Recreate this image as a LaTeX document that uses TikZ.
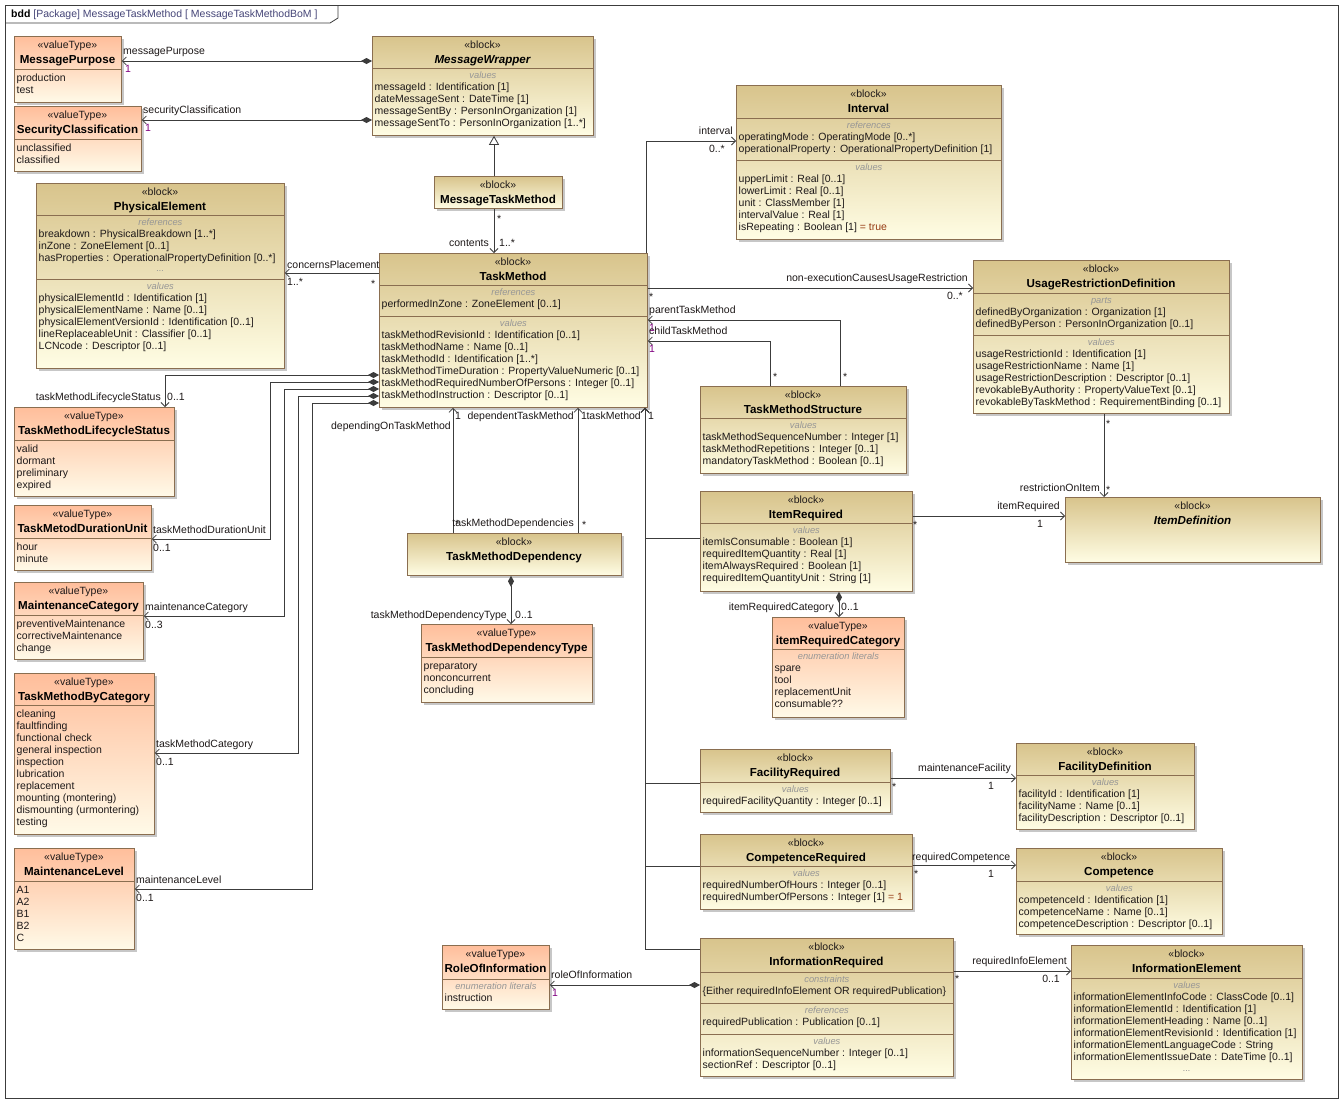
\documentclass[tikz,border=0pt]{standalone}
\usepackage{fontspec}
\setmainfont{Liberation Sans}
\usetikzlibrary{arrows.meta,shadows}
\definecolor{blkA}{RGB}{216,196,140}
\definecolor{blkB}{RGB}{255,253,228}
\definecolor{vtA}{RGB}{255,190,155}
\definecolor{vtB}{RGB}{255,250,232}
\definecolor{boxline}{RGB}{138,110,80}
\definecolor{linec}{RGB}{60,60,60}
\definecolor{txt}{RGB}{30,25,25}
\definecolor{lbl}{RGB}{150,150,150}
\definecolor{mult}{RGB}{128,0,128}
\definecolor{defval}{RGB}{150,60,20}
\definecolor{hdr}{RGB}{70,70,120}
\tikzset{
  umlbox/.style={draw=boxline,line width=.8pt,inner sep=0pt,shading angle=60,
    drop shadow={shadow xshift=3pt,shadow yshift=-3pt,fill=black!40,opacity=.55}},
  blk/.style={umlbox,top color=blkA,bottom color=blkB},
  vtype/.style={umlbox,top color=vtA,bottom color=vtB},
  stereo/.style={inner sep=0pt,text height=7.5pt,text depth=0pt,text=txt},
  title/.style={inner sep=0pt,text height=8.3pt,text depth=0pt,text=black,font=\fontsize{11.6}{13}\selectfont\bfseries},
  clabel/.style={inner sep=0pt,text height=6.7pt,text depth=0pt,text=lbl,font=\fontsize{9.3}{11}\selectfont\itshape},
  entry/.style={anchor=west,xshift=2.5pt,inner sep=0pt,text height=7.5pt,text depth=0pt,text=txt},
  sepline/.style={draw=boxline,line width=.8pt},
  ordinary/.style={draw=linec,line width=.8pt},
  assoc/.style={ordinary,-{Straight Barb[length=4pt,width=8pt]}},
  compo/.style={ordinary,{Diamond[length=11pt,width=6pt]}-{Straight Barb[length=4pt,width=8pt]}},
  general/.style={ordinary,-{Triangle[open,length=9pt,width=10pt,fill=white]}},
  role/.style={inner sep=0pt,text height=7.5pt,text depth=0pt,text=txt},
  mlt/.style={role,text=mult}
}

\begin{document}
\begin{tikzpicture}[x=1pt,y=-1pt,every node/.style={font=\fontsize{10.5}{12}\selectfont}]
\newcommand{\blockbox}[8]{%
  \node[#2,minimum width={#5-#3},minimum height={#6-#4},anchor=north west] (#1) at (#3,#4) {};
  \node[stereo] (#1s) at ({(#3+#5)/2},{#4+9}) {«#7»};
  \node[title] (#1t) at ({(#3+#5)/2},{#4+23}) {#8};}
\newcommand{\compart}[5]{%
  \draw[sepline] (#1.west |- 0,#3) -- (#1.east |- 0,#3);
  \pgfmathsetmacro\ylab{#3+7.5}
  \node[clabel] (#1#2) at (#1.north |- 0,\ylab) {#4};
  \foreach \ent [count=\i] in {#5}{
    \pgfmathsetmacro\yrow{#3+7+12*\i}
    \node[entry] (#1#2\i) at (#1.west |- 0,\yrow) {\ent};}}
\newcommand{\literals}[3]{%
  \draw[sepline] (#1.west |- 0,#2) -- (#1.east |- 0,#2);
  \foreach \ent [count=\i] in {#3}{
    \pgfmathsetmacro\yrow{#2-3.7+12*\i}
    \node[entry] (#1l\i) at (#1.west |- 0,\yrow) {\ent};}}

\fill[white] (0,0) rectangle (1344,1104);
\useasboundingbox (0,0) rectangle (1344,1104);
\draw[draw=linec,line width=.8pt] (5,5) rectangle (1338,1098);
\draw[draw=linec,line width=.8pt] (5,23) -- (330,23) -- (338,18) -- (338,5);
\node[role,anchor=west,text=hdr] (frameT) at (11,14) {\textcolor{black}{\textbf{bdd}} [Package] MessageTaskMethod [ MessageTaskMethodBoM ]};

\blockbox{MP}{vtype}{14}{36}{121}{102}{valueType}{MessagePurpose}
\literals{MP}{69}{production,test}
\blockbox{SC}{vtype}{14}{106}{141}{171}{valueType}{SecurityClassification}
\literals{SC}{139}{unclassified,classified}
\blockbox{MW}{blk}{372}{36}{593}{135}{block}{\itshape MessageWrapper}
\compart{MW}{v}{68}{values}{{messageId : Identification [1]},{dateMessageSent : DateTime [1]},{messageSentBy : PersonInOrganization [1]},{messageSentTo : PersonInOrganization [1..*]}}
\blockbox{MTM}{blk}{434}{176}{562}{208}{block}{MessageTaskMethod}
\blockbox{IV}{blk}{736}{85}{1001}{239}{block}{Interval}
\compart{IV}{r}{118}{references}{{operatingMode : OperatingMode [0..*]},{operationalProperty : OperationalPropertyDefinition [1]}}
\compart{IV}{v}{160}{values}{{upperLimit : Real [0..1]},{lowerLimit : Real [0..1]},{unit : ClassMember [1]},{intervalValue : Real [1]},{isRepeating : Boolean [1] \textcolor{defval}{= true}}}
\blockbox{PE}{blk}{36}{183}{284}{368}{block}{PhysicalElement}
\compart{PE}{r}{215}{references}{{breakdown : PhysicalBreakdown [1..*]},{inZone : ZoneElement [0..1]},{hasProperties : OperationalPropertyDefinition [0..*]}}
\node[clabel] (PEdots) at (PE.north |- 0,268) {...};
\compart{PE}{v}{279}{values}{{physicalElementId : Identification [1]},{physicalElementName : Name [0..1]},{physicalElementVersionId : Identification [0..1]},{lineReplaceableUnit : Classifier [0..1]},{LCNcode : Descriptor [0..1]}}
\blockbox{TM}{blk}{379}{253}{647}{407}{block}{TaskMethod}
\compart{TM}{r}{285}{references}{{performedInZone : ZoneElement [0..1]}}
\compart{TM}{v}{316}{values}{{taskMethodRevisionId : Identification [0..1]},{taskMethodName : Name [0..1]},{taskMethodId : Identification [1..*]},{taskMethodTimeDuration : PropertyValueNumeric [0..1]},{taskMethodRequiredNumberOfPersons : Integer [0..1]},{taskMethodInstruction : Descriptor [0..1]}}
\blockbox{URD}{blk}{973}{260}{1229}{413}{block}{UsageRestrictionDefinition}
\compart{URD}{p}{293}{parts}{{definedByOrganization : Organization [1]},{definedByPerson : PersonInOrganization [0..1]}}
\compart{URD}{v}{335}{values}{{usageRestrictionId : Identification [1]},{usageRestrictionName : Name [1]},{usageRestrictionDescription : Descriptor [0..1]},{revokableByAuthority : PropertyValueText [0..1]},{revokableByTaskMethod : RequirementBinding [0..1]}}
\blockbox{TMS}{blk}{700}{386}{906}{473}{block}{TaskMethodStructure}
\compart{TMS}{v}{418}{values}{{taskMethodSequenceNumber : Integer [1]},{taskMethodRepetitions : Integer [0..1]},{mandatoryTaskMethod : Boolean [0..1]}}
\blockbox{TMLS}{vtype}{14}{407}{174}{496}{valueType}{TaskMethodLifecycleStatus}
\literals{TMLS}{440}{valid,dormant,preliminary,expired}
\blockbox{TDU}{vtype}{14}{505}{151}{570}{valueType}{TaskMetodDurationUnit}
\literals{TDU}{538}{hour,minute}
\blockbox{MC}{vtype}{14}{582}{143}{659}{valueType}{MaintenanceCategory}
\literals{MC}{615}{preventiveMaintenance,correctiveMaintenance,change}
\blockbox{TMBC}{vtype}{14}{673}{154}{834}{valueType}{TaskMethodByCategory}
\literals{TMBC}{705}{cleaning,faultfinding,functional check,general inspection,inspection,lubrication,replacement,mounting (montering),dismounting (urmontering),testing}
\blockbox{ML}{vtype}{14}{848}{134}{949}{valueType}{MaintenanceLevel}
\literals{ML}{881}{A1,A2,B1,B2,C}
\blockbox{TMD}{blk}{407}{533}{621}{575}{block}{TaskMethodDependency}
\blockbox{TMDT}{vtype}{421}{624}{592}{702}{valueType}{TaskMethodDependencyType}
\literals{TMDT}{657}{preparatory,nonconcurrent,concluding}
\blockbox{IRq}{blk}{700}{491}{912}{591}{block}{ItemRequired}
\compart{IRq}{v}{523}{values}{{itemIsConsumable : Boolean [1]},{requiredItemQuantity : Real [1]},{itemAlwaysRequired : Boolean [1]},{requiredItemQuantityUnit : String [1]}}
\blockbox{ID}{blk}{1065}{497}{1320}{562}{block}{\itshape ItemDefinition}
\blockbox{IRC}{vtype}{772}{617}{904}{717}{valueType}{itemRequiredCategory}
\compart{IRC}{e}{649}{enumeration literals}{spare,tool,replacementUnit,consumable??}
\blockbox{FR}{blk}{700}{749}{890}{812}{block}{FacilityRequired}
\compart{FR}{v}{782}{values}{{requiredFacilityQuantity : Integer [0..1]}}
\blockbox{FD}{blk}{1016}{743}{1194}{829}{block}{FacilityDefinition}
\compart{FD}{v}{775}{values}{{facilityId : Identification [1]},{facilityName : Name [0..1]},{facilityDescription : Descriptor [0..1]}}
\blockbox{CR}{blk}{700}{834}{912}{909}{block}{CompetenceRequired}
\compart{CR}{v}{866}{values}{{requiredNumberOfHours : Integer [0..1]},{requiredNumberOfPersons : Integer [1] \textcolor{defval}{= 1}}}
\blockbox{CP}{blk}{1016}{848}{1222}{934}{block}{Competence}
\compart{CP}{v}{881}{values}{{competenceId : Identification [1]},{competenceName : Name [0..1]},{competenceDescription : Descriptor [0..1]}}
\blockbox{RoI}{vtype}{442}{945}{549}{1009}{valueType}{RoleOfInformation}
\compart{RoI}{e}{979}{enumeration literals}{instruction}
\blockbox{IRd}{blk}{700}{938}{953}{1076}{block}{InformationRequired}
\compart{IRd}{c}{972}{constraints}{{\{Either requiredInfoElement OR requiredPublication\}}}
\compart{IRd}{r}{1003}{references}{{requiredPublication : Publication [0..1]}}
\compart{IRd}{v}{1034}{values}{{informationSequenceNumber : Integer [0..1]},{sectionRef : Descriptor [0..1]}}
\blockbox{IE}{blk}{1071}{945}{1302}{1079}{block}{InformationElement}
\compart{IE}{v}{978}{values}{{informationElementInfoCode : ClassCode [0..1]},{informationElementId : Identification [1]},{informationElementHeading : Name [0..1]},{informationElementRevisionId : Identification [1]},{informationElementLanguageCode : String},{informationElementIssueDate : DateTime [0..1]}}
\node[clabel] (IEdots) at (IE.north |- 0,1068) {...};

\draw[compo] (MW.west |- 0,61) -- (MP.east |- 0,61);
\draw[compo] (MW.west |- 0,120) -- (SC.east |- 0,120);
\draw[general] (494,0 |- MTM.north) -- (494,0 |- MW.south);
\draw[assoc] (494,0 |- MTM.south) -- (494,0 |- TM.north);
\draw[assoc] (646,0 |- TM.north) |- (IV.west |- 0,141);
\draw[assoc] (TM.west |- 0,273) -- (PE.east |- 0,273);
\draw[assoc] (TM.east |- 0,288) -- (URD.west |- 0,288);
\draw[assoc] (840,0 |- TMS.north) |- (TM.east |- 0,320);
\draw[assoc] (770,0 |- TMS.north) |- (TM.east |- 0,341);
\draw[compo] (TM.west |- 0,375) -| (165,0 |- TMLS.north);
\draw[compo] (TM.west |- 0,382) -| (270,539) -- (TDU.east |- 0,539);
\draw[compo] (TM.west |- 0,389) -| (284,616) -- (MC.east |- 0,616);
\draw[compo] (TM.west |- 0,396) -| (298,753) -- (TMBC.east |- 0,753);
\draw[compo] (TM.west |- 0,403) -| (312,889) -- (ML.east |- 0,889);
\draw[assoc] (453,0 |- TMD.north) -- (453,0 |- TM.south);
\draw[assoc] (578,0 |- TMD.north) -- (578,0 |- TM.south);
\draw[compo] (511,0 |- TMD.south) -- (511,0 |- TMDT.north);
\draw[assoc] (IRq.west |- 0,538) -| (645,0 |- TM.south);
\draw[assoc] (FR.west |- 0,783) -| (645,0 |- TM.south);
\draw[assoc] (CR.west |- 0,866) -| (645,0 |- TM.south);
\draw[assoc] (IRd.west |- 0,949) -| (645,0 |- TM.south);
\draw[assoc] (IRq.east |- 0,516) -- (ID.west |- 0,516);
\draw[assoc] (1104,0 |- URD.south) -- (1104,0 |- ID.north);
\draw[compo] (839,0 |- IRq.south) -- (839,0 |- IRC.north);
\draw[assoc] (FR.east |- 0,778) -- (FD.west |- 0,778);
\draw[assoc] (CR.east |- 0,865) -- (CP.west |- 0,865);
\draw[compo] (IRd.west |- 0,985) -- (RoI.east |- 0,985);
\draw[assoc] (IRd.east |- 0,971) -- (IE.west |- 0,971);

\node[role,anchor=west] (rMP) at (123,51) {messagePurpose};
\node[mlt,anchor=west] (mMP) at (125,69) {1};
\node[role,anchor=west] (rSC) at (143,110) {securityClassification};
\node[mlt,anchor=west] (mSC) at (145,128) {1};
\node[role,anchor=east] (rCT) at (489,243) {contents};
\node[role,anchor=west] (mCT) at (499,243) {1..*};
\node[role,anchor=west] (mCT2) at (497,219) {*};
\node[role,anchor=east] (rIV) at (733,131) {interval};
\node[role,anchor=east] (mIV) at (725,149) {0..*};
\node[role,anchor=west] (rPE) at (287,265) {concernsPlacement};
\node[role,anchor=west] (mPE) at (287,282) {1..*};
\node[role,anchor=west] (mPE2) at (371,284) {*};
\node[role,anchor=east] (rUR) at (968,278) {non-executionCausesUsageRestriction};
\node[role,anchor=east] (mUR) at (963,296) {0..*};
\node[role,anchor=west] (mUR2) at (649,297) {*};
\node[role,anchor=west] (rPT) at (649,310) {parentTaskMethod};
\node[mlt,anchor=west] (mPT) at (649,328) {1};
\node[role,anchor=west] (mPT2) at (843,377) {*};
\node[role,anchor=west] (rCH) at (649,331) {childTaskMethod};
\node[mlt,anchor=west] (mCH) at (649,349) {1};
\node[role,anchor=west] (mCH2) at (773,377) {*};
\node[role,anchor=east] (rLS) at (161,397) {taskMethodLifecycleStatus};
\node[role,anchor=west] (mLS) at (167,397) {0..1};
\node[role,anchor=west] (rDU) at (153,530) {taskMethodDurationUnit};
\node[role,anchor=west] (mDU) at (153,548) {0..1};
\node[role,anchor=west] (rMC) at (145,607) {maintenanceCategory};
\node[role,anchor=west] (mMC) at (145,625) {0..3};
\node[role,anchor=west] (rBC) at (156,744) {taskMethodCategory};
\node[role,anchor=west] (mBC) at (156,762) {0..1};
\node[role,anchor=west] (rML) at (136,880) {maintenanceLevel};
\node[role,anchor=west] (mML) at (136,898) {0..1};
\node[role,anchor=east] (rDO) at (451,426) {dependingOnTaskMethod};
\node[role,anchor=west] (mDO) at (455,416) {1};
\node[role,anchor=east] (rDT) at (574,416) {dependentTaskMethod};
\node[role,anchor=west] (mDT) at (581,416) {1};
\node[role,anchor=east] (rTK) at (641,416) {taskMethod};
\node[role,anchor=west] (mTK) at (648,416) {1};
\node[role,anchor=east] (rTD) at (574,523) {taskMethodDependencies};
\node[role,anchor=west] (mTD) at (582,525) {*};
\node[role,anchor=west] (mTD2) at (455,524) {*};
\node[role,anchor=east] (rTT) at (507,615) {taskMethodDependencyType};
\node[role,anchor=west] (mTT) at (515,615) {0..1};
\node[role,anchor=west] (mRI) at (1106,424) {*};
\node[role,anchor=east] (rRI) at (1100,488) {restrictionOnItem};
\node[role,anchor=west] (mRI2) at (1106,490) {*};
\node[role,anchor=east] (rIR) at (1060,506) {itemRequired};
\node[role,anchor=west] (mIR) at (1037,524) {1};
\node[role,anchor=west] (mIR2) at (913,525) {*};
\node[role,anchor=east] (rIC) at (834,607) {itemRequiredCategory};
\node[role,anchor=west] (mIC) at (841,607) {0..1};
\node[role,anchor=east] (rMF) at (1011,768) {maintenanceFacility};
\node[role,anchor=west] (mMF) at (988,786) {1};
\node[role,anchor=west] (mMF2) at (892,787) {*};
\node[role,anchor=west] (rRC) at (912,857) {requiredCompetence};
\node[role,anchor=west] (mRC) at (988,874) {1};
\node[role,anchor=west] (mRC2) at (914,874) {*};
\node[role,anchor=west] (rRO) at (551,975) {roleOfInformation};
\node[mlt,anchor=west] (mRO) at (552,993) {1};
\node[role,anchor=east] (rIE) at (1067,961) {requiredInfoElement};
\node[role,anchor=east] (mIE) at (1060,979) {0..1};
\node[role,anchor=west] (mIE2) at (955,979) {*};
\end{tikzpicture}
\end{document}
